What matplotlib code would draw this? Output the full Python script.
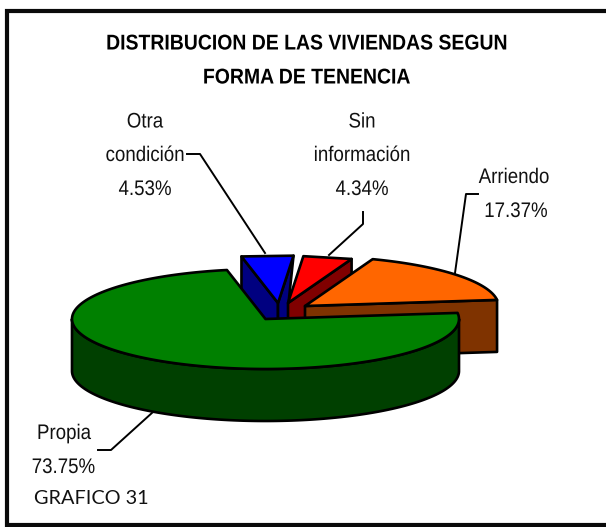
import numpy as np
import matplotlib
matplotlib.use("Agg")
import matplotlib.pyplot as plt
from matplotlib.patches import Polygon
from matplotlib.patheffects import AbstractPathEffect
from matplotlib.transforms import Affine2D

# shares, anticlockwise starting from Propia
categories = ["Propia", "Arriendo", "Sin\ninformación", "Otra\ncondición"]
values = [73.75, 17.37, 4.34, 4.53]
title_lines = ["DISTRIBUCION DE LAS VIVIENDAS SEGUN", "FORMA DE TENENCIA"]

# pie geometry in pixels
cx, cy = 265.5, 319
rx, ry = 193.5, 50
depth = 52
start = 101.5
lw = 1.9


class Condense(AbstractPathEffect):
    # the reference text is squeezed sideways, no narrow font is installed
    def __init__(self, x, factor):
        self.x = x
        self.factor = factor

    def draw_path(self, renderer, gc, tpath, affine, rgbFace=None):
        squeeze = Affine2D().translate(-self.x, 0).scale(self.factor, 1).translate(self.x, 0)
        renderer.draw_path(gc, tpath, affine + squeeze, rgbFace)


def arc(x0, y0, a1, a2, scale=1.0, n=200):
    t = np.radians(np.linspace(a1, a2, n))
    return np.column_stack([x0 + scale * rx * np.cos(t), y0 - scale * ry * np.sin(t)])


def poly(ax, pts, color):
    ax.add_patch(Polygon(pts, closed=True, facecolor=color, edgecolor="black", lw=lw, joinstyle="round"))


fig = plt.figure(figsize=(6.06, 5.27), dpi=100)
ax = fig.add_axes([0, 0, 1, 1])
ax.set_xlim(0, 606)
ax.set_ylim(527, 0)
ax.axis("off")

# frame is open on the right side
ax.plot([606, 7, 7, 606], [11, 11, 525, 525], color="#0a0a0a", lw=3, solid_joinstyle="miter")

angles = start + np.concatenate([[0], np.cumsum(values)]) * 3.6
a_propia = angles[0], angles[1]
a_arr = angles[1] - 360, angles[2] - 360
a_sin = angles[2] - 360, angles[3] - 360
a_otra = angles[3] - 360, angles[4] - 360

# Otra condicion
ox, oy, os = 278, 303, 0.95
top = arc(ox, oy, *a_otra, os, n=2)
left, right = top[-1], top[0]
poly(ax, [(ox, oy), left, left + (0, depth), (ox, oy + depth)], "#000080")
poly(ax, [(ox, oy), right, (right[0] - 5, oy), (right[0] - 5, oy + depth), (ox, oy + depth)], "#000080")
poly(ax, np.vstack([[(ox, oy)], top]), "#0000FF")

# Sin informacion
sx, sy, ss = 288, 303, 0.94
top = arc(sx, sy, *a_sin, ss, n=2)
right = top[0]
poly(ax, [(sx, sy), right, right + (0, depth), (sx, sy + depth)], "#800000")
poly(ax, np.vstack([[(sx, sy)], top]), "#FF0000")

# Arriendo
ax0, ay0 = 305, 306
top = arc(ax0, ay0, *a_arr)
right = top[0]
poly(ax, [(ax0, ay0), right, right + (0, depth), (ax0, ay0 + depth)], "#7F3300")
poly(ax, np.vstack([[(ax0, ay0)], top]), "#FF6600")

# Propia, wall first and then the top face
front = arc(cx, cy, 180, 360)
poly(ax, np.vstack([front, (front + (0, depth))[::-1]]), "#004000")
poly(ax, np.vstack([[(cx, cy)], arc(cx, cy, *a_propia)]), "#008000")

# leader lines
ax.plot([187, 200, 265], [154, 154, 253], color="black", lw=1.4)
ax.plot([363, 363, 329], [212, 224, 255], color="black", lw=1.4)
ax.plot([478, 466, 455], [194, 194, 273], color="black", lw=1.4)
ax.plot([98, 111, 153], [450, 450, 412], color="black", lw=1.4)

for y, line in zip([49.5, 83.5], title_lines):
    ax.text(306.5, y, line, ha="center", va="baseline", family="Liberation Sans", fontweight="bold",
            fontsize=15.4, path_effects=[Condense(306.5, 0.908)])


def label(x, y, s):
    ax.text(x, y, s, ha="center", va="baseline", family="Liberation Sans", fontsize=15.2,
            color="#111111", path_effects=[Condense(x, 0.886)])


ot = categories[3].split("\n")
si = categories[2].split("\n")
label(145, 127.5, ot[0])
label(145, 161, ot[1])
label(145, 195, f"{values[3]:.2f}%")
label(362, 127.5, si[0])
label(362, 161, si[1])
label(362, 195, f"{values[2]:.2f}%")
label(514, 183, categories[1])
label(516, 217, f"{values[1]:.2f}%")
label(64, 439, categories[0])
label(63.5, 473, f"{values[0]:.2f}%")
ax.text(34, 504, "GRAFICO 31", ha="left", va="baseline", family="Lato", fontsize=14.3, color="#111111")

fig.savefig("out.png", dpi=100)
